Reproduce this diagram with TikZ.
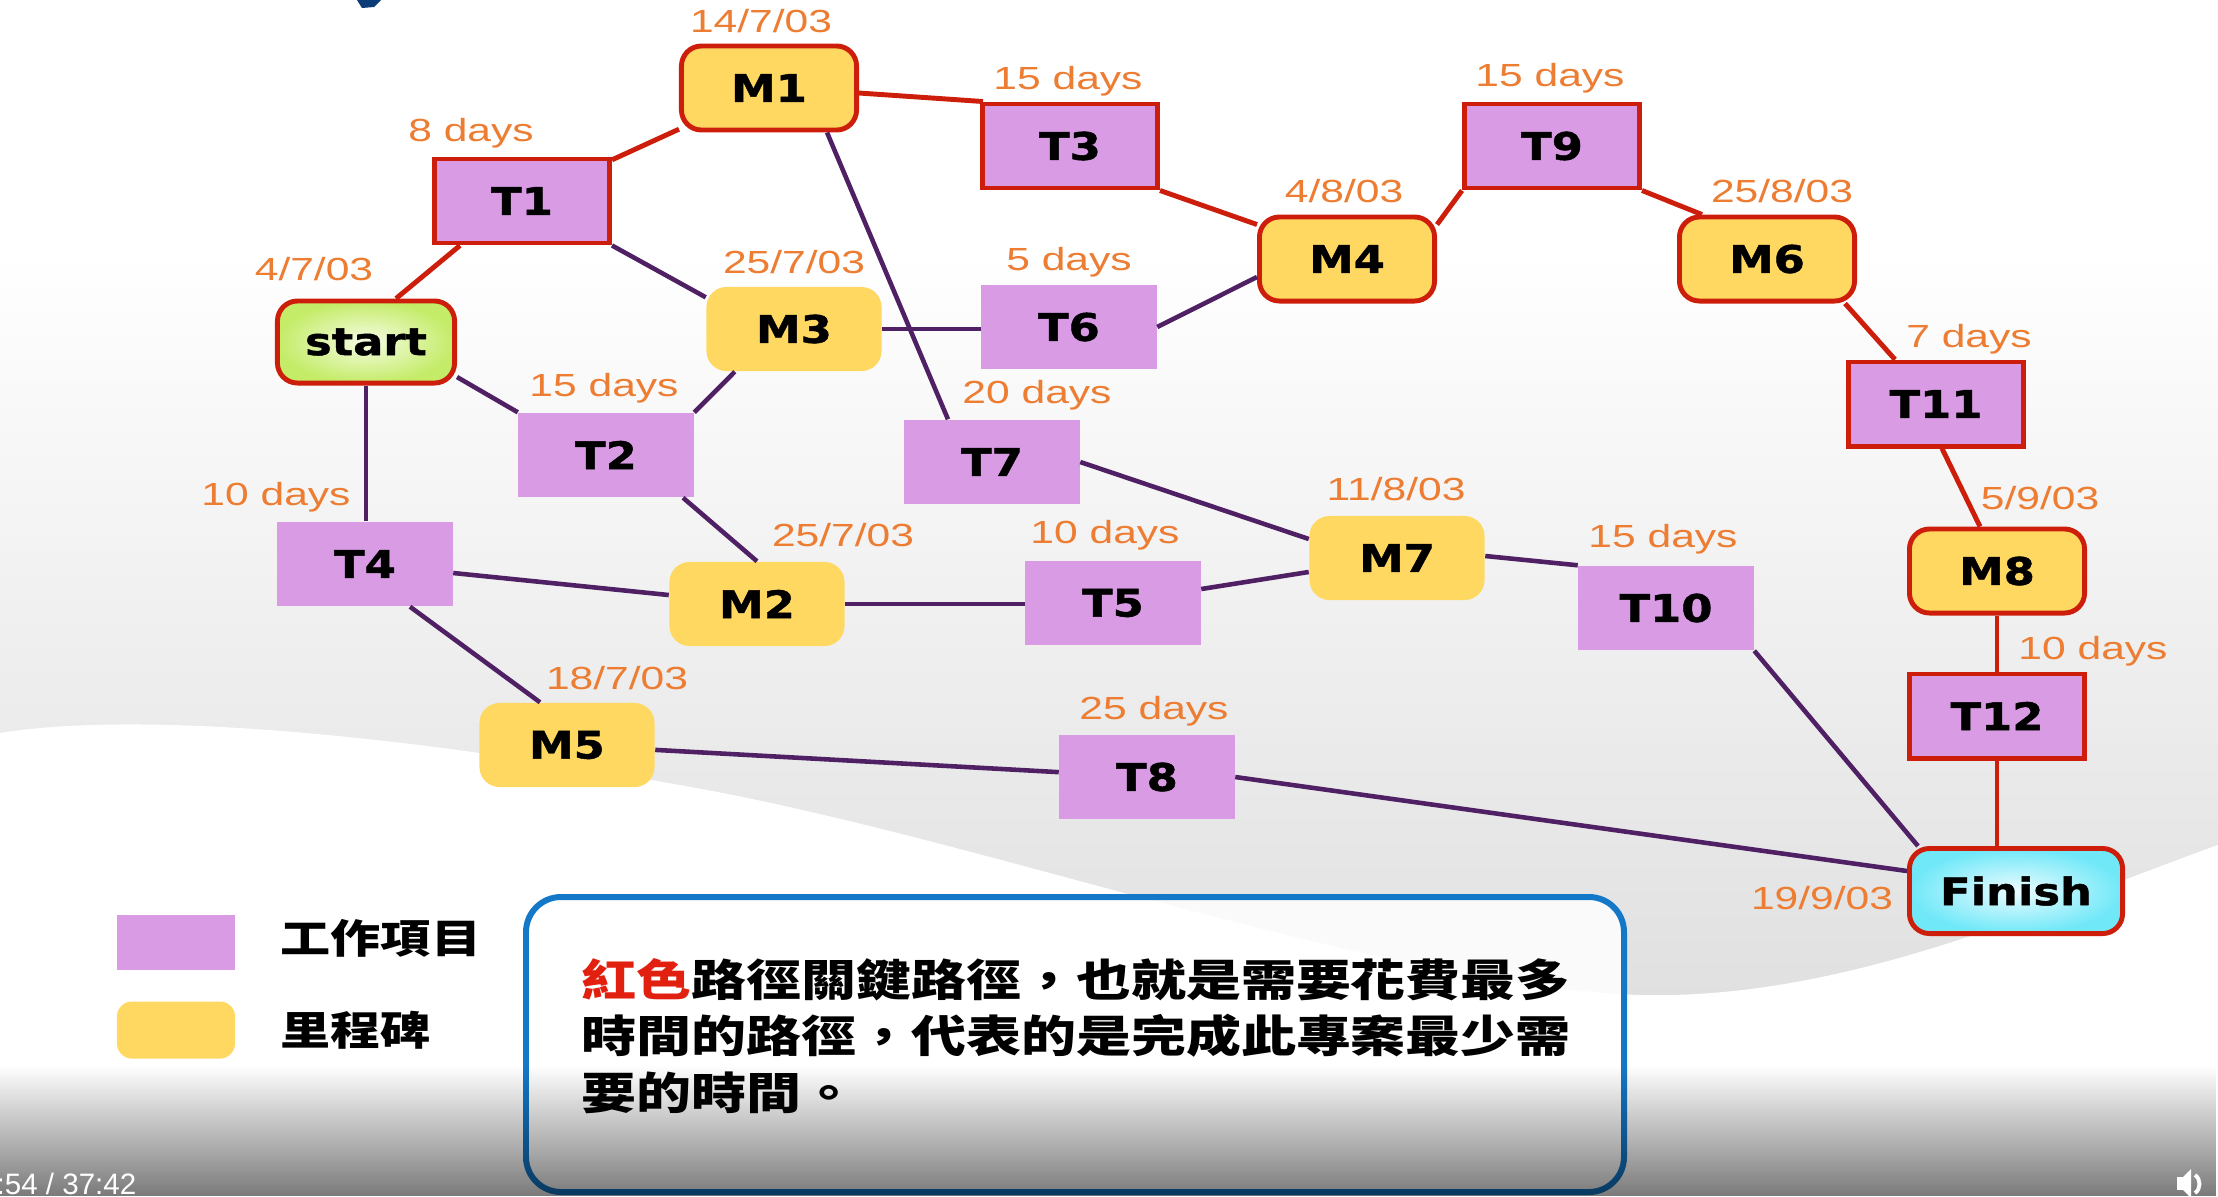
\documentclass[tikz,border=0pt]{standalone}
\usepackage{fontspec}
\setmainfont{Liberation Sans}
\newfontfamily\nodefont[FakeStretch=1.18, BoldFeatures={FakeBold=1.2}]{DejaVu Sans}
\newfontfamily\labfont[FakeStretch=1.33]{Liberation Sans}
\newfontfamily\timefont{Liberation Sans}
\newfontfamily\cjk[FakeStretch=1.25]{Noto Sans CJK TC}
\usetikzlibrary{fadings,calc}
\definecolor{taskc}{RGB}{216,155,228}
\definecolor{milec}{RGB}{255,216,98}
\definecolor{critc}{RGB}{204,30,10}
\definecolor{linec}{RGB}{80,32,100}
\definecolor{labc}{RGB}{236,125,50}
\definecolor{boxblue}{RGB}{20,120,200}
\definecolor{startin}{RGB}{246,252,228}
\definecolor{startout}{RGB}{196,236,104}
\definecolor{finin}{RGB}{236,252,255}
\definecolor{finout}{RGB}{112,232,248}
\definecolor{bggray}{RGB}{224,224,224}
\definecolor{titleblue}{RGB}{12,60,120}
\definecolor{redtxt}{RGB}{226,32,16}
\tikzfading[name=barfade, top color=transparent!100, bottom color=transparent!0]
\begin{document}
\begin{tikzpicture}[x=0.01cm, y=-0.01cm,
 tk/.style={rectangle, fill=taskc, minimum width=1.75cm, minimum height=0.84cm, inner sep=0pt, font=\nodefont\bfseries\fontsize{10.8}{12}\selectfont},
 ms/.style={tk, fill=milec, rounded corners=0.2cm},
 crit/.style={draw=critc, line width=1.4pt},
 lab/.style={text=labc, inner sep=0pt, font=\labfont\fontsize{9.1}{10}\selectfont},
 cl/.style={draw=critc, line width=1.4pt},
 nl/.style={draw=linec, line width=1.3pt},
 cjktext/.style={inner sep=0pt, anchor=west, align=left},
]
\useasboundingbox (0,0) rectangle (2218,1196);
% background
\fill[white] (0,0) rectangle (2218,1196);
\shade[top color=white, bottom color=bggray] (0,250) rectangle (2218,1000);
\fill[bggray] (0,999) rectangle (2218,1196);
\fill[white] (0,733) .. controls (90,718) and (300,715) .. (707,790)
  .. controls (1000,845) and (1380,985) .. (1640,995)
  .. controls (1850,1000) and (2050,905) .. (2218,845)
  -- (2218,1196) -- (0,1196) -- cycle;
% title fragment
\fill[titleblue] (357,0) -- (381,0) -- (374,7) -- (362,8) -- cycle;

% nodes
\node[ms, crit, inner color=startin, outer color=startout, minimum width=1.77cm, minimum height=0.82cm] (start) at (366,342) {start};
\node[tk, crit] (T1) at (522,201) {T1};
\node[ms, crit] (M1) at (769,88) {M1};
\node[tk, crit] (T3) at (1070,146) {T3};
\node[ms, crit] (M4) at (1347,259) {M4};
\node[tk, crit] (T9) at (1552,146) {T9};
\node[ms, crit] (M6) at (1767,259) {M6};
\node[tk, crit] (T11) at (1936,404) {T11};
\node[ms, crit] (M8) at (1997,571) {M8};
\node[tk, crit] (T12) at (1997,716) {T12};
\node[ms, crit, inner color=finin, outer color=finout, minimum width=2.13cm, minimum height=0.85cm] (Finish) at (2016,891) {Finish};
\node[ms] (M3) at (794,329) {M3};
\node[tk] (T6) at (1069,327) {T6};
\node[tk] (T2) at (606,455) {T2};
\node[tk] (T7) at (992,462) {T7};
\node[tk] (T4) at (365,564) {T4};
\node[ms] (M2) at (757,604) {M2};
\node[tk] (T5) at (1113,603) {T5};
\node[ms] (M7) at (1397,558) {M7};
\node[tk] (T10) at (1666,608) {T10};
\node[ms] (M5) at (567,745) {M5};
\node[tk] (T8) at (1147,777) {T8};

% critical path
\draw[cl] ([xshift=0.3cm]start.north) -- ([xshift=-0.62cm]T1.south);
\draw[cl] (T1) -- (M1);
\draw[cl] ([yshift=-0.05cm]M1.east) -- ([xshift=0.03cm]T3.north west);
\draw[cl] (T3.south east) -- ([yshift=-0.1cm]M4.north west);
\draw[cl] ([yshift=-0.1cm]M4.north east) -- (T9.south west);
\draw[cl] (T9.south east) -- ([xshift=0.25cm]M6.north west);
\draw[cl] ([xshift=-0.12cm]M6.south east) -- ([xshift=-0.41cm]T11.north);
\draw[cl] ([xshift=0.06cm]T11.south) -- ([xshift=-0.17cm]M8.north);
\draw[cl] (M8.south) -- (T12.north);
\draw[cl] (T12.south) -- (T12.south |- Finish.north);
% other paths
\draw[nl] (T1.south east) -- ([yshift=-0.11cm]M3.north west);
\draw[nl] ([yshift=-0.35cm]start.east) -- (T2.north west);
\draw[nl] (start.south) -- (start.south |- T4.north);
\draw[nl] (T2.north east) -- ([xshift=0.29cm]M3.south west);
\draw[nl] ([xshift=0.77cm]T2.south) -- (M2.north);
\draw[nl] ([xshift=0.58cm]M1.south) -- ([xshift=-0.44cm]T7.north);
\draw[nl] (M3.east) -- (M3.east -| T6.west);
\draw[nl] (T6.east) -- ([yshift=-0.18cm]M4.west);
\draw[nl] (T4) -- (M2);
\draw[nl] ([xshift=0.45cm]T4.south) -- ([xshift=-0.27cm]M5.north);
\draw[nl] (M2.east) -- (M2.east -| T5.west);
\draw[nl] (T5) -- (M7);
\draw[nl] (T7.east) -- ([yshift=0.19cm]M7.west);
\draw[nl] ([yshift=0.02cm]M7.east) -- (T10.north west);
\draw[nl] (T10.south east) -- ([xshift=0.11cm]Finish.north west);
\draw[nl] (M5) -- (T8);
\draw[nl] (T8.east) -- ([yshift=0.2cm]Finish.west);

% labels
\node[lab] (l1) at (761,21) {14/7/03};
\node[lab] (l2) at (471,133) {8 days};
\node[lab] (l3) at (314,269) {4/7/03};
\node[lab] (l4) at (1068,81) {15 days};
\node[lab] (l5) at (794,262) {25/7/03};
\node[lab] (l6) at (1069,262) {5 days};
\node[lab] (l7) at (1344,191) {4/8/03};
\node[lab] (l8) at (1550,78) {15 days};
\node[lab] (l9) at (1782,191) {25/8/03};
\node[lab] (l10) at (1969,339) {7 days};
\node[lab] (l11) at (604,388) {15 days};
\node[lab] (l12) at (1037,395) {20 days};
\node[lab] (l13) at (276,497) {10 days};
\node[lab] (l14) at (843,535) {25/7/03};
\node[lab] (l15) at (1105,535) {10 days};
\node[lab] (l16) at (1396,489) {11/8/03};
\node[lab] (l17) at (1663,539) {15 days};
\node[lab] (l18) at (2040,498) {5/9/03};
\node[lab] (l19) at (2093,651) {10 days};
\node[lab] (l20) at (617,678) {18/7/03};
\node[lab] (l21) at (1154,711) {25 days};
\node[lab] (l22) at (1822,898) {19/9/03};

% legend
\node[rectangle, fill=taskc, minimum width=1.18cm, minimum height=0.55cm, inner sep=0pt] (legT) at (176,942) {};
\node[rectangle, fill=milec, rounded corners=0.15cm, minimum width=1.18cm, minimum height=0.57cm, inner sep=0pt] (legM) at (176,1030) {};
\node[cjktext, font=\cjk\bfseries\fontsize{11.4}{13}\selectfont] (legTtxt) at (280,938) {工作項目};
\node[cjktext, font=\cjk\bfseries\fontsize{11.4}{13}\selectfont] (legMtxt) at (280,1030) {里程碑};

% note box
\draw[boxblue, line width=1.7pt, fill=white, fill opacity=0.85, rounded corners=0.35cm] (526,897) rectangle (1624,1192);
\node[cjktext, font=\cjk\bfseries\fontsize{12.5}{16.1}\selectfont] (note) at (581,1036)
 {\textcolor{redtxt}{紅色}路徑關鍵路徑，也就是需要花費最多\\時間的路徑，代表的是完成此專案最少需\\要的時間。};

% video bar overlay
\fill[black, opacity=0.52, path fading=barfade] (0,1065) rectangle (2218,1196);
\node[anchor=west, inner sep=0pt, text=white, font=\timefont\fontsize{8.4}{10}\selectfont] (time) at (-4,1184) {:54 / 37:42};
\fill[white] (2177,1177) rectangle (2183,1190);
\fill[white] (2183,1177) -- (2191,1169) -- (2191,1198) -- (2183,1190) -- cycle;
\draw[white, line width=1.1pt] (2195,1175) .. controls (2201,1179) and (2201,1189) .. (2195,1193);
\end{tikzpicture}
\end{document}
